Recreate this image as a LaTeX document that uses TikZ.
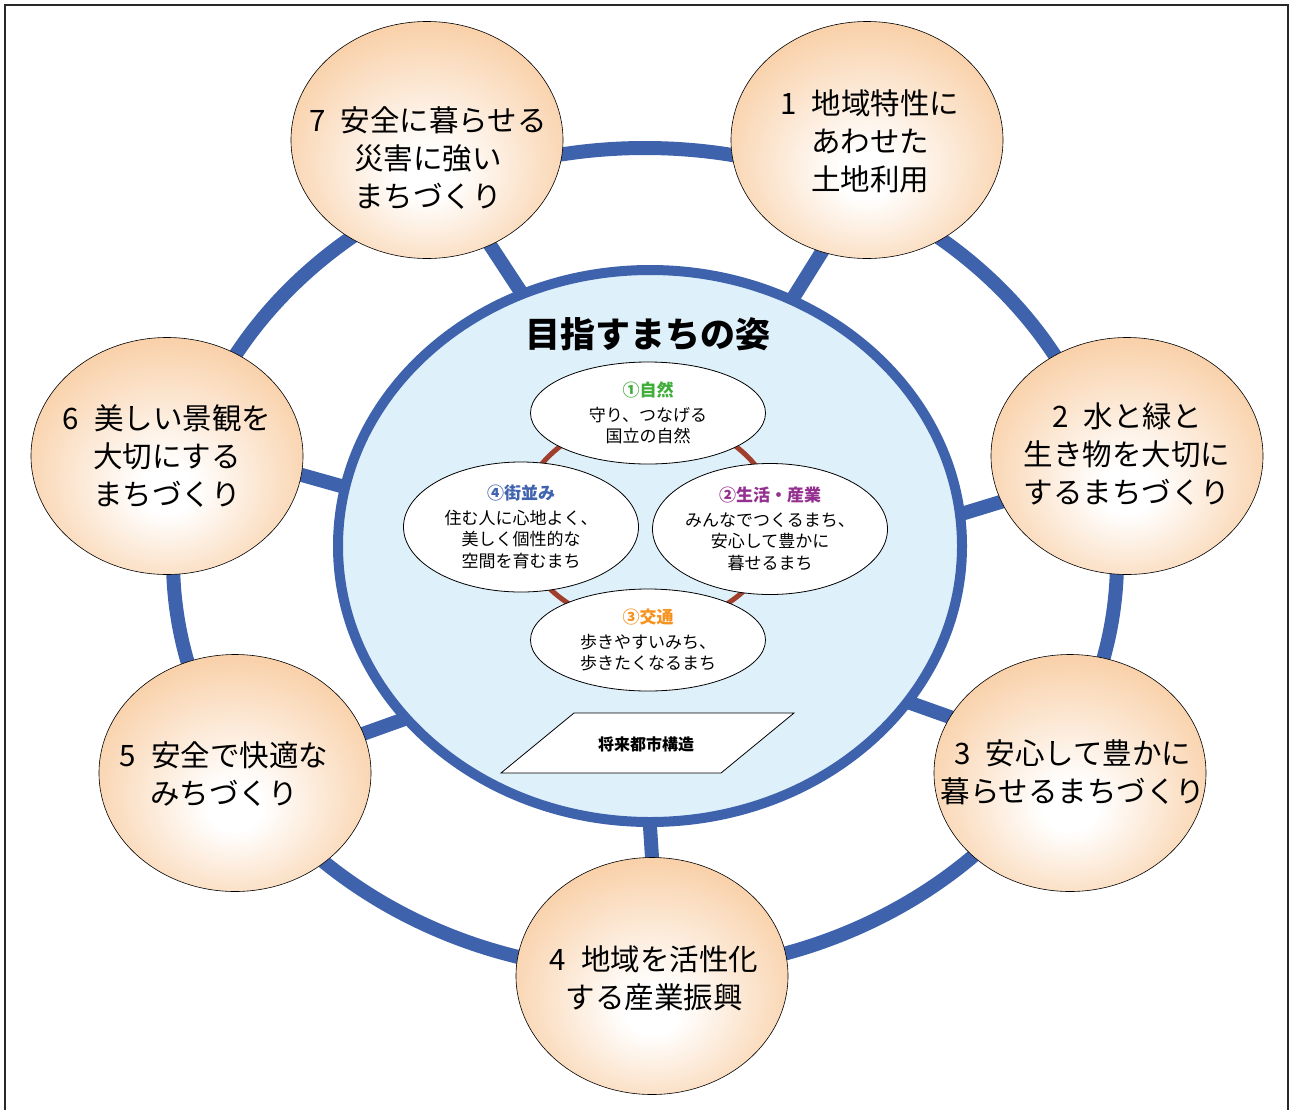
\documentclass[tikz,border=0pt]{standalone}
\usepackage{fontspec}
\setmainfont{Noto Sans CJK JP}
\usetikzlibrary{shapes.geometric}
\definecolor{ringblue}{RGB}{62,98,172}
\definecolor{centerfill}{RGB}{222,240,250}
\definecolor{peachC}{RGB}{249,209,170}
\definecolor{brownC}{RGB}{160,64,44}
\definecolor{hgreen}{RGB}{64,174,58}
\definecolor{hpurple}{RGB}{148,48,143}
\definecolor{horange}{RGB}{246,146,30}
\definecolor{hblue}{RGB}{63,99,174}
\definecolor{framegray}{RGB}{40,40,40}
\pgfdeclareradialshading{peachshade}{\pgfpoint{0bp}{-8bp}}{color(0bp)=(white); color(5bp)=(white); color(28bp)=(peachC); color(50bp)=(peachC)}
\pgfdeclarelayer{background}
\pgfsetlayers{background,main}
\begin{document}
\begin{tikzpicture}[x=1pt,y={(0,-1pt)},
  orb/.style={ellipse, draw=black, line width=0.6pt, shade, shading=peachshade, minimum width=272pt, minimum height=237pt, inner sep=0pt},
  otext/.style={font=\fontsize{29.5}{38}\selectfont, align=center, inner sep=0pt},
  itext/.style={font=\fontsize{17}{21.5}\selectfont, align=center, inner sep=0pt},
  innerell/.style={ellipse, draw=black, line width=0.8pt, fill=white, inner sep=0pt},
  central/.style={ellipse, draw=ringblue, line width=10pt, fill=centerfill, minimum width=624pt, minimum height=552pt, inner sep=0pt},
  spoke/.style={draw=ringblue, line width=14pt, shorten <=-14pt, shorten >=-14pt},
  ringline/.style={draw=ringblue, line width=14pt},
  brownring/.style={draw=brownC, line width=5pt}
]
\useasboundingbox (0,0) rectangle (1290,1109);
\draw[framegray, line width=2pt] (4.5,1112) -- (4.5,4.5) -- (1288,4.5) -- (1288,1112);

% central
\node[central] (C) at (650,546) {};
\node[font=\fontsize{35}{40}\selectfont\bfseries, inner sep=0pt] (title) at (648,334) {目指すまちの姿};

% brown connecting ring
\coordinate (bc) at (648,522);
\draw[brownring] (bc) ellipse [x radius=128pt, y radius=104pt];

% inner ellipses
\node[innerell, minimum width=235pt, minimum height=102pt] (e1) at (648,413) {};
\node[innerell, minimum width=235pt, minimum height=130pt] (e4) at (521,527) {};
\node[innerell, minimum width=235pt, minimum height=131pt] (e2) at (770,529) {};
\node[innerell, minimum width=235pt, minimum height=102pt] (e3) at (648,640) {};

\node[itext] (t1) at (e1) {{\color{hgreen}\bfseries ①自然}\\[3pt]守り、つなげる\\国立の自然};
\node[itext] (t2) at (e2) {{\color{hpurple}\bfseries ②生活・産業}\\[3pt]みんなでつくるまち、\\安心して豊かに\\暮せるまち};
\node[itext] (t3) at (e3) {{\color{horange}\bfseries ③交通}\\[3pt]歩きやすいみち、\\歩きたくなるまち};
\node[itext] (t4) at (e4) {{\color{hblue}\bfseries ④街並み}\\[3pt]住む人に心地よく、\\美しく個性的な\\空間を育むまち};

% future structure parallelogram
\draw[fill=white, draw=black, line width=0.8pt] (574,713) -- (794,713) -- (721,773) -- (501,773) -- cycle;
\node[font=\fontsize{16}{18}\selectfont\bfseries, inner sep=0pt] (fut) at (646,744) {将来都市構造};

% outer orbs
\node[orb] (n1) at (867,140) {};
\node[orb] (n2) at (1127,456) {};
\node[orb] (n3) at (1070,773) {};
\node[orb] (n4) at (652,976) {};
\node[orb] (n5) at (235,773) {};
\node[orb] (n6) at (167,456) {};
\node[orb] (n7) at (427,140) {};

\node[otext] (o1) at (870,141) {1\enspace 地域特性に\\あわせた\\土地利用};
\node[otext] (o2) at (1127,454) {2\enspace 水と緑と\\生き物を大切に\\するまちづくり};
\node[otext] (o3) at (1073,772) {3\enspace 安心して豊かに\\暮らせるまちづくり};
\node[otext] (o4) at (654,978) {4\enspace 地域を活性化\\する産業振興};
\node[otext] (o5) at (224,774) {5\enspace 安全で快適な\\みちづくり};
\node[otext] (o6) at (167,456) {6\enspace 美しい景観を\\大切にする\\まちづくり};
\node[otext] (o7) at (428,158) {7\enspace 安全に暮らせる\\災害に強い\\まちづくり};

\begin{pgfonlayer}{background}
\coordinate (rc) at (645,560);
\draw[ringline] (rc) ellipse [x radius=472pt, y radius=412pt];
\draw[spoke] (n7.-59) -- (C.117);
\draw[spoke] (n1.-112) -- (C.60);
\draw[spoke] (n6.-8) -- (C.169);
\draw[spoke] (n2.200) -- (C.6);
\draw[spoke] (n5.17) -- (C.-145);
\draw[spoke] (n3.155) -- (C.-31);
\draw[spoke] (n4.90) -- (C.-90);
\end{pgfonlayer}
\end{tikzpicture}
\end{document}
